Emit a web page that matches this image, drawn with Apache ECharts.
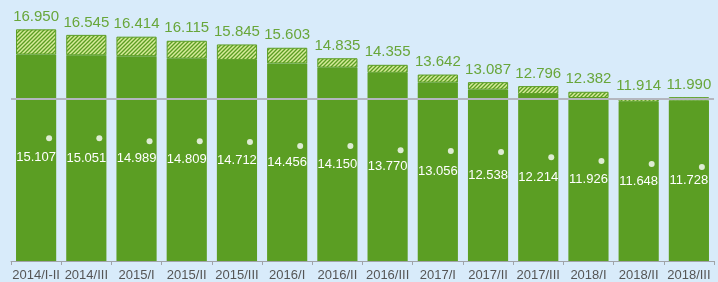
<!DOCTYPE html>
<html lang="en">
<head>
    <meta charset="UTF-8">
    <title>Chart</title>
    <script src="https://cdn.jsdelivr.net/npm/echarts@6/dist/echarts.min.js"></script>
    <style>
        html, body { margin: 0; padding: 0; background: #d8ebfa; }
        #chart { width: 718px; height: 282px; }
    </style>
</head>
<body>
<div id="chart"></div>
<script type="text/javascript">
    var periods = ['2014/I-II', '2014/III', '2015/I', '2015/II', '2015/III', '2016/I', '2016/II',
                   '2016/III', '2017/I', '2017/II', '2017/III', '2018/I', '2018/II', '2018/III'];
    var totals = [16.950, 16.545, 16.414, 16.115, 15.845, 15.603, 14.835,
                  14.355, 13.642, 13.087, 12.796, 12.382, 11.914, 11.990];
    var solid = [15.107, 15.051, 14.989, 14.809, 14.712, 14.456, 14.150,
                 13.770, 13.056, 12.538, 12.214, 11.926, 11.648, 11.728];
    var dots = [8.99, 8.99, 8.77, 8.77, 8.70, 8.41, 8.41,
                8.11, 8.04, 7.97, 7.60, 7.31, 7.09, 6.87];
    var refLine = 11.86;

    function fmt(v) { return v.toFixed(3); }

    var rest = [];
    for (var i = 0; i < totals.length; i++) {
        rest.push(+(totals[i] - solid[i]).toFixed(3));
    }

    var green = '#5b9e23';

    // small tile with "/" stripes for the hatched part
    var tile = document.createElement('canvas');
    tile.width = 4;
    tile.height = 4;
    var ctx = tile.getContext('2d');
    ctx.fillStyle = green;
    ctx.fillRect(0, 0, 4, 4);
    ctx.strokeStyle = '#d7eb9a';
    ctx.lineWidth = 1.5;
    ctx.beginPath();
    ctx.moveTo(-1, 5); ctx.lineTo(5, -1);
    ctx.moveTo(-1, 1); ctx.lineTo(1, -1);
    ctx.moveTo(3, 5); ctx.lineTo(5, 3);
    ctx.stroke();

    var myChart = echarts.init(document.getElementById('chart'));
    var option = {
        backgroundColor: '#d8ebfa',
        animation: false,
        textStyle: { fontFamily: 'Liberation Sans' },
        grid: { left: 11, right: 4, top: 15, bottom: 21 },
        xAxis: {
            type: 'category',
            data: periods,
            boundaryGap: true,
            axisLine: { lineStyle: { color: '#a0a4a8', width: 1 } },
            axisTick: { show: true, length: 4, lineStyle: { color: '#a0a4a8' } },
            axisLabel: { color: '#555555', fontSize: 13, margin: 8, interval: 0 }
        },
        yAxis: {
            type: 'value',
            min: 0,
            max: 18,
            show: false,
            splitLine: { show: false }
        },
        series: [
            {
                name: 'solid',
                type: 'bar',
                stack: 'tot',
                barCategoryGap: '20%',
                data: solid,
                itemStyle: { color: green },
                label: {
                    show: true,
                    position: 'inside',
                    color: '#ffffff',
                    fontSize: 13,
                    formatter: function (p) { return fmt(p.value); }
                }
            },
            {
                name: 'rest',
                type: 'bar',
                stack: 'tot',
                data: rest,
                itemStyle: {
                    color: { image: tile, repeat: 'repeat' },
                    borderColor: green,
                    borderWidth: 1
                },
                label: {
                    show: true,
                    position: 'top',
                    distance: 5,
                    color: '#68a63a',
                    fontSize: 15,
                    formatter: function (p) { return fmt(totals[p.dataIndex]); }
                },
                markLine: {
                    silent: true,
                    symbol: 'none',
                    label: { show: false },
                    lineStyle: { color: '#b4b6bf', width: 2, type: 'solid' },
                    data: [{ yAxis: refLine }]
                }
            },
            {
                name: 'dots',
                type: 'scatter',
                data: dots,
                symbol: 'circle',
                symbolSize: 6,
                symbolOffset: [13, 0],
                itemStyle: { color: '#ffffff' },
                z: 5
            }
        ]
    };
    myChart.setOption(option);
</script>
</body>
</html>
